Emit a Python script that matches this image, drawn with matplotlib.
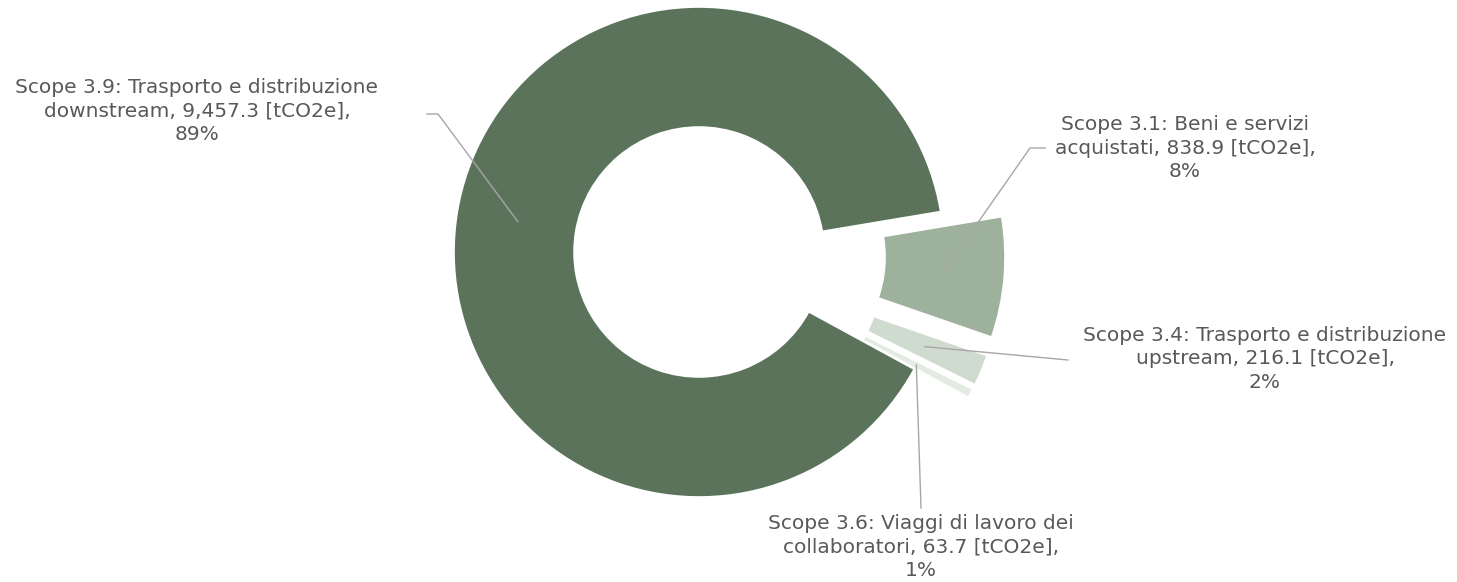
import numpy as np
import matplotlib.pyplot as plt

# dati (tCO2e)
categories = [
    "Scope 3.1: Beni e servizi\nacquistati",
    "Scope 3.4: Trasporto e distribuzione\nupstream",
    "Scope 3.6: Viaggi di lavoro dei\ncollaboratori",
    "Scope 3.9: Trasporto e distribuzione\ndownstream",
]
values = [838.9, 216.1, 63.7, 9457.3]
colors = ["#9db19c", "#cfdbcf", "#e4ebe3", "#5b735b"]
explode = [0.25, 0.25, 0.25, 0.0]

# posizione delle etichette in pixel (x centro, y centro) e punto di attacco della linea
label_pos = [(1185, 148), (1265, 359), (921, 547), (197, 111)]
line_start = [[(1045, 148), (1030, 148)], [(1068, 360)], [(921, 508)], [(427, 114), (438, 114)]]

W, H = 1457, 582
cx, cy, R = 699, 252, 245


def px(x, y):
    return (x - cx) / R, (cy - y) / R


fig = plt.figure(figsize=(W / 100, H / 100), dpi=100)
ax = fig.add_axes([0, 0, 1, 1])

wedges, _ = ax.pie(values, colors=colors, explode=explode, startangle=9.5,
                   counterclock=False, radius=1,
                   wedgeprops=dict(width=0.49, edgecolor="white", linewidth=1.2))

total = sum(values)
for i, w in enumerate(wedges):
    mid = np.deg2rad((w.theta1 + w.theta2) / 2)
    r = 0.75 + explode[i]
    ax_, ay_ = r * np.cos(mid), r * np.sin(mid)
    pts = [px(*p) for p in line_start[i]] + [(ax_, ay_)]
    ax.plot([p[0] for p in pts], [p[1] for p in pts], color="#a6a6a6", lw=1, zorder=3)
    pct = round(values[i] / total * 100)
    txt = f"{categories[i]}, {values[i]:,.1f} [tCO2e],\n{pct}%"
    tx, ty = px(*label_pos[i])
    ax.text(tx, ty, txt, ha="center", va="center", fontsize=14.5, color="#595959",
            linespacing=1.33)

ax.set_xlim(-cx / R, (W - cx) / R)
ax.set_ylim(-(H - cy) / R, cy / R)
ax.set_aspect("auto")
ax.axis("off")

fig.savefig("out.png", dpi=100)
